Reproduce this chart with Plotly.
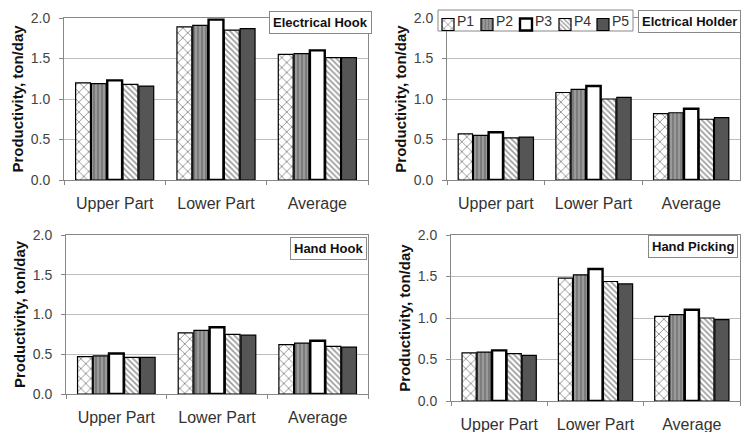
import plotly.graph_objects as go

categories_a = ["Upper Part", "Lower Part", "Average"]
categories_b = ["Upper part", "Lower Part", "Average"]
series = ["P1", "P2", "P3", "P4", "P5"]

electrical_hook = {
    "P1": [1.20, 1.89, 1.55],
    "P2": [1.19, 1.91, 1.56],
    "P3": [1.23, 1.98, 1.60],
    "P4": [1.18, 1.85, 1.51],
    "P5": [1.16, 1.87, 1.51],
}
electrical_holder = {
    "P1": [0.57, 1.08, 0.82],
    "P2": [0.55, 1.12, 0.83],
    "P3": [0.59, 1.16, 0.88],
    "P4": [0.52, 1.00, 0.75],
    "P5": [0.53, 1.02, 0.77],
}
hand_hook = {
    "P1": [0.47, 0.77, 0.62],
    "P2": [0.48, 0.80, 0.64],
    "P3": [0.51, 0.84, 0.67],
    "P4": [0.46, 0.75, 0.60],
    "P5": [0.46, 0.74, 0.59],
}
hand_picking = {
    "P1": [0.58, 1.48, 1.02],
    "P2": [0.59, 1.52, 1.04],
    "P3": [0.61, 1.59, 1.10],
    "P4": [0.57, 1.44, 1.00],
    "P5": [0.55, 1.41, 0.98],
}
panel_titles = ["Electrical Hook", "Elctrical Holder", "Hand Hook", "Hand Picking"]
y_ticks = [0.0, 0.5, 1.0, 1.5, 2.0]
y_tick_text = ["0.0", "0.5", "1.0", "1.5", "2.0"]

styles = {
    "P1": dict(color="white", pattern=dict(shape="x", fgcolor="#222", bgcolor="white", size=7, solidity=0.25), line=dict(color="black", width=1.2)),
    "P2": dict(color="#8a8a8a", pattern=dict(shape="|", fgcolor="#444", bgcolor="#9a9a9a", size=4, solidity=0.35), line=dict(color="black", width=1.2)),
    "P3": dict(color="white", line=dict(color="black", width=2.4)),
    "P4": dict(color="white", pattern=dict(shape="\\", fgcolor="#333", bgcolor="white", size=4, solidity=0.4), line=dict(color="black", width=1.2)),
    "P5": dict(color="#555555", line=dict(color="black", width=1.2)),
}

FONT = "Arial, 'Liberation Sans', sans-serif"
W, H = 741, 432

# panel: (data, categories, x domain, y domain)
panels = [
    (electrical_hook, categories_a, [64 / W, 368 / W], [1 - 180 / H, 1 - 18 / H]),
    (electrical_holder, categories_b, [447 / W, 740 / W], [1 - 180 / H, 1 - 18 / H]),
    (hand_hook, categories_a, [66 / W, 368 / W], [1 - 394 / H, 1 - 235 / H]),
    (hand_picking, categories_a, [451 / W, 740 / W], [1 - 401 / H, 1 - 235 / H]),
]

fig = go.Figure()
layout = {}
for i, (data, cats, xd, yd) in enumerate(panels):
    n = "" if i == 0 else str(i + 1)
    for s in series:
        fig.add_trace(go.Bar(
            x=cats, y=data[s], name=s, marker=styles[s],
            xaxis="x" + n, yaxis="y" + n, showlegend=False,
        ))
    layout["xaxis" + n] = dict(
        domain=xd, anchor="y" + n, type="category", automargin=False,
        showline=True, linecolor="#888", linewidth=1, mirror=True,
        ticks="outside", tickson="boundaries", ticklen=4, tickcolor="#888",
        tickfont=dict(size=16, color="#333", family=FONT), tickangle=0,
        ticklabelstandoff=9, showgrid=False,
    )
    layout["yaxis" + n] = dict(
        domain=yd, anchor="x" + n, range=[0, 2.0], automargin=False,
        tickvals=y_ticks, ticktext=y_tick_text,
        showline=True, linecolor="#888", linewidth=1, mirror=True,
        ticks="outside", ticklen=4, tickcolor="#888", ticklabelstandoff=6,
        showgrid=True, gridcolor="#bdbdbd", gridwidth=1,
        tickfont=dict(size=14, color="#444", family=FONT),
        title=dict(text="<b>Productivity, ton/day</b>", font=dict(size=15, color="#111", family=FONT), standoff=3),
        zeroline=False,
    )

# legend keys: one legend per series so keys can sit close to their labels
legend_ids = ["legend", "legend2", "legend3", "legend4", "legend5"]
key_centers = [448, 487, 526, 565, 603]
for s, lid in zip(series, legend_ids):
    fig.add_trace(go.Bar(
        x=[None], y=[None], name="", marker=styles[s],
        xaxis="x5", yaxis="y5", showlegend=True, legend=lid,
    ))
layout["xaxis5"] = dict(domain=[0.99, 1.0], anchor="y5", visible=False)
layout["yaxis5"] = dict(domain=[0.99, 1.0], anchor="x5", visible=False)

for lid, cx in zip(legend_ids, key_centers):
    layout[lid] = dict(
        x=(cx - 20) / W, y=1 - 10 / H, xanchor="left", yanchor="top",
        bgcolor="rgba(0,0,0,0)", borderwidth=0,
        font=dict(size=12, family=FONT), itemwidth=30,
    )

fig.update_layout(**layout)

# legend frame
fig.add_shape(type="rect", xref="paper", yref="paper",
              x0=438 / W, x1=633 / W, y0=1 - 31 / H, y1=1 - 10 / H,
              line=dict(color="#888", width=1), fillcolor="white", layer="above")
for s, cx in zip(series, key_centers):
    fig.add_annotation(
        text=s, x=(cx + 7) / W, y=1 - 20.5 / H, xref="paper", yref="paper",
        xanchor="left", yanchor="middle", showarrow=False,
        font=dict(size=14, color="#333", family=FONT),
    )

title_pos = [
    (372 / W, 1 - 11 / H),
    (741 / W, 1 - 10 / H),
    (367 / W, 1 - 237 / H),
    (738 / W, 1 - 235 / H),
]
for t, (x, y) in zip(panel_titles, title_pos):
    fig.add_annotation(
        text="<b>" + t + "</b>", x=x, y=y, xref="paper", yref="paper",
        xanchor="right", yanchor="top", showarrow=False,
        font=dict(size=13, color="#111", family=FONT),
        bgcolor="white", bordercolor="#888", borderwidth=1, borderpad=3,
    )

fig.update_layout(
    width=W, height=H,
    margin=dict(l=0, r=0, t=0, b=0),
    paper_bgcolor="white", plot_bgcolor="white",
    barmode="group", bargap=0.22, bargroupgap=0.06,
    font=dict(family=FONT, color="#222"),
)

fig.write_html(
    "out.html",
    config={"displayModeBar": False},
    post_script="document.body.style.margin='0px';document.body.style.padding='0px';",
)
